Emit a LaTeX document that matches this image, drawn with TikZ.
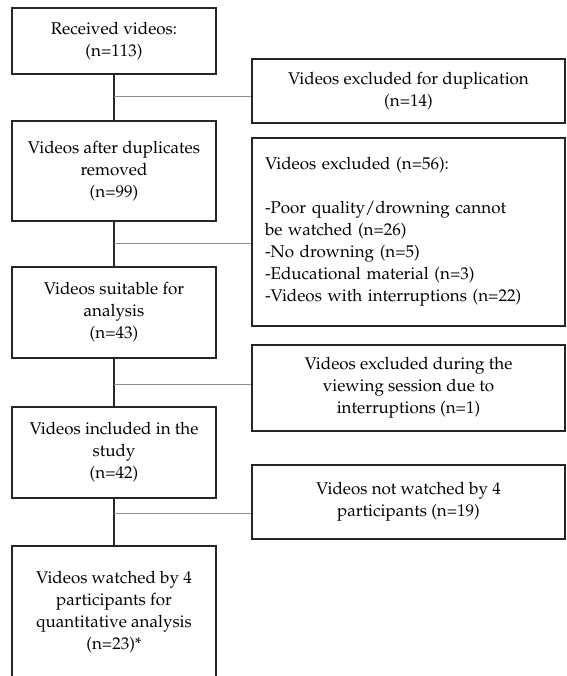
\documentclass[tikz,border=0pt]{standalone}
\usepackage[T1]{fontenc}
\usepackage{mathpazo}
\usepackage{tikz}
\usetikzlibrary{calc}

\begin{document}
\begin{tikzpicture}[x=0.6pt,y=-0.6pt,
    every node/.style={font=\fontsize{10.2}{13.2}\selectfont},
    stage/.style={draw=black!85,line width=1.2pt,minimum width=122.4pt,align=center,inner sep=0pt},
    excl/.style={draw=black!85,line width=1.2pt,minimum width=187.8pt,align=center,inner sep=0pt},
    flow/.style={black!85,line width=1.2pt},
    branch/.style={black!45,line width=0.6pt}]
        \useasboundingbox (0,0) rectangle (567,676);
        % Main stages on the left
        \node[stage,minimum height=39.6pt] (received) at (114,41) {Received videos:\\(n=113)};
        \node[stage,minimum height=60pt] (dedup) at (114,171) {Videos after duplicates\\removed\\(n=99)};
        \node[stage,minimum height=54.6pt] (suitable) at (114,312.5) {Videos suitable for\\analysis\\(n=43)};
        \node[stage,minimum height=54.6pt] (included) at (114,452.5) {Videos included in the\\study\\(n=42)};
        \node[stage,minimum height=79.2pt] (watched) at (114,612) {Videos watched by 4\\participants for\\quantitative analysis\\(n=23)*};
        % Exclusion boxes on the right
        \node[excl,minimum height=38.4pt] (dupl) at (408.5,91) {Videos excluded for duplication\\(n=14)};
        \node[excl,minimum height=112.8pt,align=left,text width=172.2pt,inner xsep=7.8pt] (excluded) at (408.5,232) {Videos excluded (n=56):\\[13.2pt]-Poor quality/drowning cannot\\be watched (n=26)\\-No drowning (n=5)\\-Educational material (n=3)\\-Videos with interruptions (n=22)};
        \node[excl,minimum height=51.6pt] (session) at (408.5,388) {Videos excluded during the\\viewing session due to\\interruptions (n=1)};
        \node[excl,minimum height=44.4pt] (notwatched) at (408.5,502) {Videos not watched by 4\\participants (n=19)};
        % Vertical flow
        \draw[flow] (received) -- (dedup);
        \draw[flow] (dedup) -- (suitable);
        \draw[flow] (suitable) -- (included);
        \draw[flow] (included) -- (watched);
        % Branches to the exclusions
        \coordinate (j1) at (114,96);
        \coordinate (j2) at (114,243);
        \coordinate (j3) at (114,384);
        \coordinate (j4) at (114,513);
        \draw[branch] (j1) -- (j1 -| dupl.west);
        \draw[branch] (j2) -- (j2 -| excluded.west);
        \draw[branch] (j3) -- (j3 -| session.west);
        \draw[branch] (j4) -- (j4 -| notwatched.west);
    \end{tikzpicture}
\end{document}
